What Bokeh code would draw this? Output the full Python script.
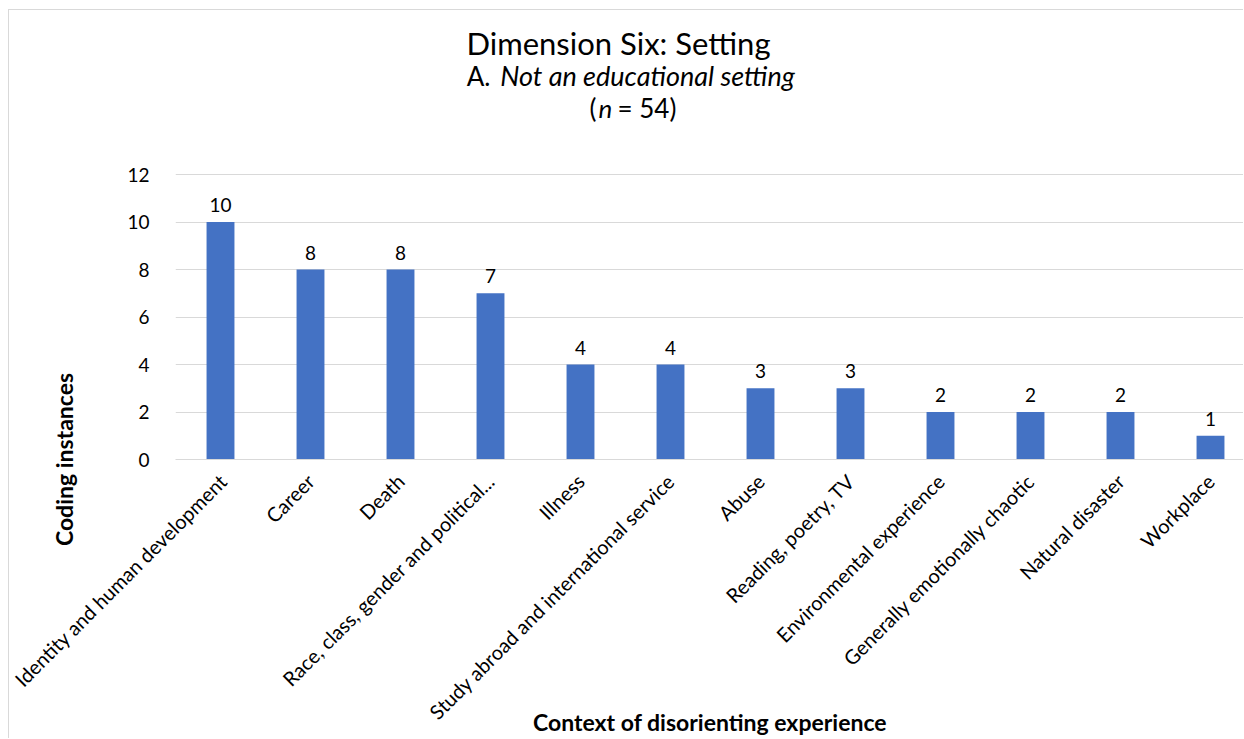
import math

from bokeh.core.properties import value
from bokeh.embed import file_html
from bokeh.models import ColumnDataSource, FixedTicker, Label, LabelSet, Range1d
from bokeh.plotting import figure
from bokeh.resources import INLINE

# --- data -------------------------------------------------------------------
categories = [
    "Identity and human development",
    "Career",
    "Death",
    "Race, class, gender and political...",
    "Illness",
    "Study abroad and international service",
    "Abuse",
    "Reading, poetry, TV",
    "Environmental experience",
    "Generally emotionally chaotic",
    "Natural disaster",
    "Workplace",
]
counts = [10, 8, 8, 7, 4, 4, 3, 3, 2, 2, 2, 1]
y_ticks = [0, 2, 4, 6, 8, 10, 12]

title_text = "Dimension Six: Setting"
subtitle_prefix = "A."
subtitle_text = "Not an educational setting"
x_title = "Context of disorienting experience"
y_title = "Coding instances"

# --- styling ------------------------------------------------------------------
FONT = "Lato"
BAR_COLOR = "#4472C4"
GRID_COLOR = "#d9d9d9"
TEXT_COLOR = "#000000"

# page placement of the chart box (left / top offsets of the canvas)
OX, OY = 9, 10
W, H = 1244 - OX, 739 - OY
FRAME_L, FRAME_B = 175, 459          # page pixels of the plot area's left and bottom edges
GRID_TOP = 174                       # page pixel of the 12 grid line
SLOT = 90.0                          # pixels per category
X0 = -0.5
X1 = X0 + (1244 - FRAME_L) / SLOT
# the plot area reaches up to the top of the chart box so the headings sit inside it
Y1 = y_ticks[-1] * (FRAME_B - OY) / (FRAME_B - GRID_TOP)

xs = list(range(len(categories)))
source = ColumnDataSource(dict(x=xs, count=counts, label=[str(c) for c in counts]))

p = figure(
    width=W,
    height=H,
    x_range=Range1d(X0, X1),
    y_range=Range1d(0, Y1),
    output_backend="svg",
    toolbar_location=None,
    min_border_left=FRAME_L - OX,
    min_border_right=0,
    min_border_top=0,
    min_border_bottom=H - (FRAME_B - OY),
    margin=(OY - 1, 0, 0, OX - 1),
    styles={"border-left": "1px solid #d9d9d9", "border-top": "1px solid #d9d9d9"},
)
p.title.visible = False
p.outline_line_color = None
p.background_fill_color = "white"
p.border_fill_color = "white"

p.vbar(x="x", top="count", width=0.31, source=source, color=BAR_COLOR, line_color=None)

# value labels above bars
p.add_layout(LabelSet(
    x="x", y="count", text="label", source=source, y_offset=10,
    text_align="center", text_baseline="alphabetic",
    text_font=value(FONT), text_font_size=value("19px"), text_color=TEXT_COLOR,
))

# grid
p.xgrid.grid_line_color = None
p.ygrid.grid_line_color = GRID_COLOR
p.ygrid.grid_line_width = 1

# y axis; its title starts at the zero line and reads upwards
p.yaxis.ticker = FixedTicker(ticks=y_ticks)
p.yaxis.axis_line_color = None
p.yaxis.major_tick_line_color = None
p.yaxis.minor_tick_line_color = None
p.yaxis.major_label_standoff = 20
p.yaxis.major_label_text_font = FONT
p.yaxis.major_label_text_font_size = "19px"
p.yaxis.major_label_text_color = TEXT_COLOR
p.yaxis.axis_label = y_title
p.yaxis.axis_label_align = "start"
p.yaxis.axis_label_text_align = "left"
p.yaxis.axis_label_standoff = 46
p.yaxis.axis_label_text_font = FONT
p.yaxis.axis_label_text_font_size = "23px"
p.yaxis.axis_label_text_font_style = "bold"
p.yaxis.axis_label_text_color = TEXT_COLOR

# x axis with rotated category names
p.xaxis.ticker = FixedTicker(ticks=xs)
p.xaxis.major_label_overrides = {i: c for i, c in enumerate(categories)}
p.xaxis.major_label_orientation = math.pi / 4
p.xaxis.axis_line_color = GRID_COLOR
p.xaxis.major_tick_line_color = None
p.xaxis.minor_tick_line_color = None
p.xaxis.major_label_standoff = 12
p.xaxis.major_label_text_font = FONT
p.xaxis.major_label_text_font_size = "20px"
p.xaxis.major_label_text_color = TEXT_COLOR
p.xaxis.axis_label = x_title
p.xaxis.axis_label_standoff_mode = "axis"
p.xaxis.axis_label_standoff = 248
p.xaxis.axis_label_text_font = FONT
p.xaxis.axis_label_text_font_size = "23px"
p.xaxis.axis_label_text_font_style = "bold"
p.xaxis.axis_label_text_color = TEXT_COLOR


def add_text(text, px, py, size, align="center", style="normal"):
    """Place a heading text at page pixel (px, py)."""
    p.add_layout(Label(
        x=px - OX, y=py - OY, x_units="canvas", y_units="canvas",
        text=text, text_align=align, text_baseline="alphabetic",
        text_font=FONT, text_font_size=size, text_font_style=style,
        text_color=TEXT_COLOR,
    ))


# chart headings
add_text(title_text, 617, 41, "31px")
add_text(subtitle_prefix, 489, 74, "26px", align="right")
add_text(subtitle_text, 646, 74, "27px", style="italic")
add_text("(", 588, 106, "26px", align="left")
add_text("n", 597, 106, "26px", align="left", style="italic")
add_text("= 54)", 616, 106, "26px", align="left")

open("out.html", "w").write(file_html(p, INLINE))
